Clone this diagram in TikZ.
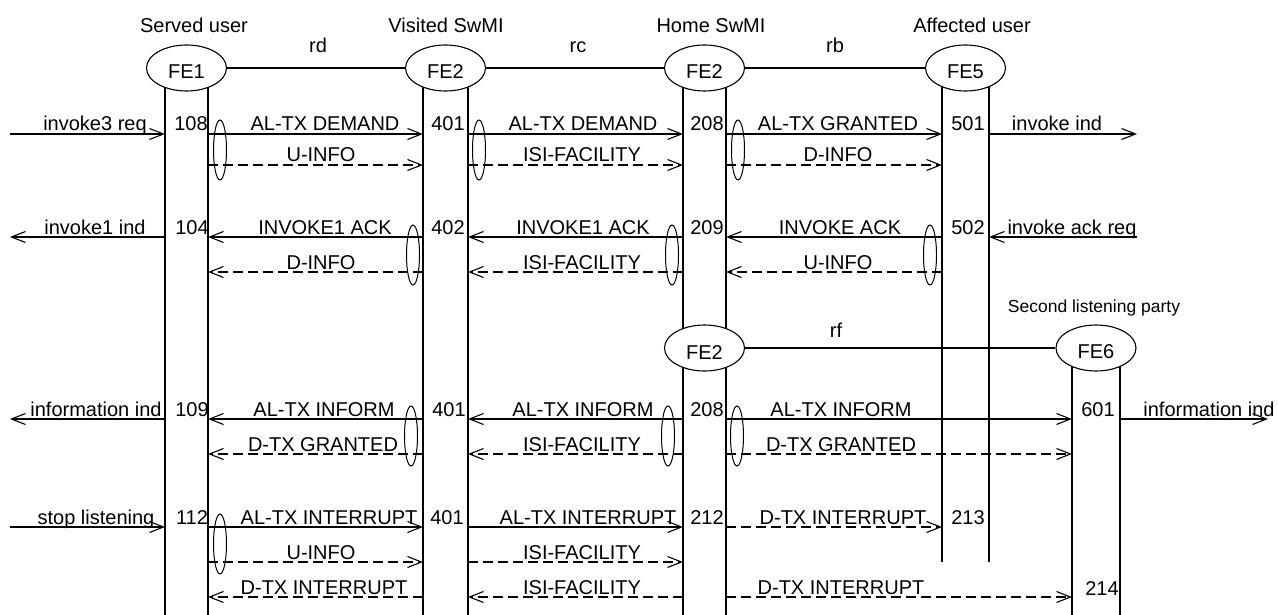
\documentclass[tikz,border=0pt]{standalone}
\usepackage{fontspec}
\setmainfont{Liberation Sans}
\usetikzlibrary{arrows.meta,shapes.geometric}
\newcommand\msgline[6]{%
  \draw[#1] (#2 |- 0,#4) -- (#3 |- 0,#4);
  \node[anchor=base] at (#6,#4-3) {#5};}
\newcommand\numlbl[3]{\node[anchor=base] at (#1,#2-3) {#3};}
\begin{document}
\begin{tikzpicture}[x=1pt,y=-1pt,line width=1.1pt,
  every node/.style={font=\fontsize{20}{24}\selectfont,inner sep=0pt},
  fe/.style={draw,fill=white,ellipse,minimum width=80pt,minimum height=46pt,text height=22pt},
  grp/.style={draw,ellipse,minimum width=13pt,minimum height=60pt,line width=1pt},
  msg/.style={-{Straight Barb[length=14pt,width=11pt]}},
  dmsg/.style={msg,dash pattern=on 10pt off 5pt},
  small/.style={font=\fontsize{17.5}{21}\selectfont}]
\useasboundingbox (0,0) rectangle (1278,615);
% lifeline x positions
\coordinate (XL) at (10,0);
\coordinate (A1) at (165,0);  \coordinate (A2) at (208,0);
\coordinate (B1) at (423,0);  \coordinate (B2) at (468,0);
\coordinate (C1) at (683,0);  \coordinate (C2) at (726,0);
\coordinate (D1) at (942,0);  \coordinate (D2) at (989,0);
\coordinate (E1) at (1072,0); \coordinate (E2) at (1120,0);
\coordinate (XR1) at (1137,0); \coordinate (XR2) at (1268,0);
% lifelines
\foreach \c in {A1,A2,B1,B2,C1,C2} \draw (\c |- 0,68) -- (\c |- 0,615);
\foreach \c in {D1,D2} \draw (\c |- 0,68) -- (\c |- 0,562);
\foreach \c in {E1,E2} \draw (\c |- 0,348) -- (\c |- 0,615);
% entities
\node[fe] (fe1) at (186.5,68) {FE1};
\node[fe] (fe2v) at (445.5,68) {FE2};
\node[fe] (fe2h) at (704.5,68) {FE2};
\node[fe] (fe5) at (965.5,68) {FE5};
\node[fe] (fe2s) at (704.5,348) {FE2};
\node[fe] (fe6) at (1096,348) {FE6};
\draw (fe1) -- (fe2v);
\draw (fe2v) -- (fe2h);
\draw (fe2h) -- (fe5);
\draw (fe2s) -- (fe6);
\node[anchor=base] (t1) at (194,33) {Served user};
\node[anchor=base] (t2) at (446,33) {Visited SwMI};
\node[anchor=base] (t3) at (711,33) {Home SwMI};
\node[anchor=base] (t4) at (972,33) {Affected user};
\node[anchor=base,small] (t5) at (1094,312) {Second listening party};
\node[anchor=base] (rd) at (318,53) {rd};
\node[anchor=base] (rc) at (578,53) {rc};
\node[anchor=base] (rb) at (835,53) {rb};
\node[anchor=base] (rf) at (836,337) {rf};
% row 1-2
\msgline{msg}{XL}{A1}{134}{invoke3 req}{95}
\msgline{msg}{A2}{B1}{134}{AL-TX DEMAND}{325}
\msgline{msg}{B2}{C1}{134}{AL-TX DEMAND}{583}
\msgline{msg}{C2}{D1}{134}{AL-TX GRANTED}{838}
\msgline{msg}{D2}{XR1}{134}{invoke ind}{1057}
\numlbl{191}{134}{108}\numlbl{448}{134}{401}\numlbl{707}{134}{208}\numlbl{968}{134}{501}
\msgline{dmsg}{A2}{B1}{165}{U-INFO}{321}
\msgline{dmsg}{B2}{C1}{165}{ISI-FACILITY}{582}
\msgline{dmsg}{C2}{D1}{165}{D-INFO}{838}
\node[grp] (g1) at (220,150) {};
\node[grp] (g2) at (479,150) {};
\node[grp] (g3) at (738,150) {};
% row 3-4
\msgline{msg}{A1}{XL}{237}{invoke1 ind}{95}
\msgline{msg}{B1}{A2}{237}{INVOKE1 ACK}{325}
\msgline{msg}{C1}{B2}{237}{INVOKE1 ACK}{583}
\msgline{msg}{D1}{C2}{237}{INVOKE ACK}{840}
\msgline{msg}{XR1}{D2}{237}{invoke ack req}{1072}
\numlbl{192}{237}{104}\numlbl{448}{237}{402}\numlbl{707}{237}{209}\numlbl{968}{237}{502}
\msgline{dmsg}{B1}{A2}{272}{D-INFO}{321}
\msgline{dmsg}{C1}{B2}{272}{ISI-FACILITY}{582}
\msgline{dmsg}{D1}{C2}{272}{U-INFO}{838}
\node[grp] (g4) at (413,255) {};
\node[grp] (g5) at (672,255) {};
\node[grp] (g6) at (930,255) {};
% row 5-6
\msgline{msg}{A1}{XL}{419}{information ind}{96}
\msgline{msg}{B1}{A2}{419}{AL-TX INFORM}{324}
\msgline{msg}{C1}{B2}{419}{AL-TX INFORM}{583}
\msgline{msg}{C2}{E1}{419}{AL-TX INFORM}{841}
\msgline{msg}{E2}{XR2}{419}{information ind}{1209}
\numlbl{192}{419}{109}\numlbl{449}{419}{401}\numlbl{707}{419}{208}\numlbl{1098}{419}{601}
\msgline{dmsg}{B1}{A2}{454}{D-TX GRANTED}{323}
\msgline{dmsg}{C1}{B2}{454}{ISI-FACILITY}{582}
\msgline{dmsg}{C2}{E1}{454}{D-TX GRANTED}{841}
\node[grp] (g7) at (411,436) {};
\node[grp] (g8) at (668,436) {};
\node[grp] (g9) at (737,436) {};
% row 7-9
\msgline{msg}{XL}{A1}{527}{stop listening}{96}
\msgline{msg}{A2}{B1}{527}{AL-TX INTERRUPT}{329}
\msgline{msg}{B2}{C1}{527}{AL-TX INTERRUPT}{588}
\msgline{dmsg}{C2}{D1}{527}{D-TX INTERRUPT}{843}
\numlbl{192}{527}{112}\numlbl{447}{527}{401}\numlbl{707}{527}{212}\numlbl{968}{527}{213}
\msgline{dmsg}{A2}{B1}{562}{U-INFO}{321}
\msgline{dmsg}{B2}{C1}{562}{ISI-FACILITY}{582}
\node[grp] (g10) at (220,544) {};
\msgline{dmsg}{B1}{A2}{597}{D-TX INTERRUPT}{324}
\msgline{dmsg}{C1}{B2}{597}{ISI-FACILITY}{582}
\msgline{dmsg}{C2}{E1}{597}{D-TX INTERRUPT}{841}
\numlbl{1102}{598}{214}
\end{tikzpicture}
\end{document}
